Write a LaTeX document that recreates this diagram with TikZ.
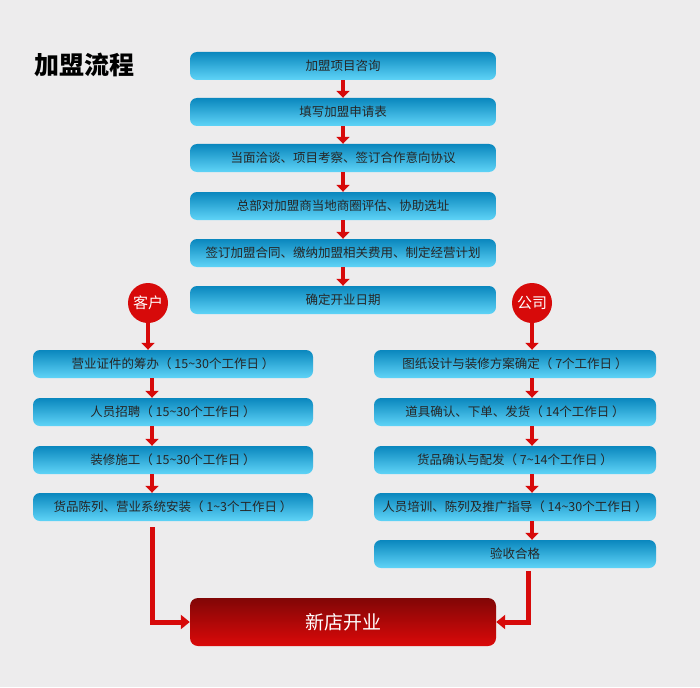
\documentclass[tikz,border=0pt]{standalone}
\usepackage{fontspec}
\setmainfont{Noto Sans CJK SC}
\usetikzlibrary{arrows.meta}
\definecolor{bg}{RGB}{237,236,237}
\definecolor{bdark}{RGB}{10,135,190}
\definecolor{blight}{RGB}{95,212,247}
\definecolor{rr}{RGB}{215,10,10}
\begin{document}
\begin{tikzpicture}[x=1pt,y=-1pt,
 bx/.style={rounded corners=7pt,top color=bdark,bottom color=blight,draw=none,minimum height=28pt,font=\fontsize{12.5}{14}\selectfont,text=black!85,inner sep=0pt},
 tb/.style={bx,minimum width=306pt},
 lb/.style={bx,minimum width=280pt},
 rb/.style={bx,minimum width=282pt},
 ar/.style={draw=rr,line width=4pt,-{Triangle[width=13pt,length=7pt]}},
 big/.style={draw=rr,line width=5pt,-{Triangle[width=14pt,length=9pt]}},
 circ/.style={circle,fill=rr,text=white,minimum size=40pt,inner sep=0pt,font=\fontsize{15}{17}\selectfont}]
\fill[bg] (0,0) rectangle (700,687);
\useasboundingbox (0,0) rectangle (700,687);
\node[anchor=west,font=\fontsize{25}{27}\selectfont\bfseries] (title) at (31,65) {加盟流程};
\node[tb] (t1) at (343,66) {加盟项目咨询};
\node[tb] (t2) at (343,112) {填写加盟申请表};
\node[tb] (t3) at (343,158) {当面洽谈、项目考察、签订合作意向协议};
\node[tb] (t4) at (343,206) {总部对加盟商当地商圈评估、协助选址};
\node[tb] (t5) at (343,253) {签订加盟合同、缴纳加盟相关费用、制定经营计划};
\node[tb] (t6) at (343,300) {确定开业日期};
\foreach \a/\b in {t1/t2,t2/t3,t3/t4,t4/t5,t5/t6} \draw[ar] (\a.south) -- (\b.north);
\node[circ] (kh) at (148,303) {客户};
\node[circ] (gs) at (532,303) {公司};
\node[lb] (l1) at (173,364) {营业证件的筹办（ 15\textasciitilde 30个工作日 ）};
\node[lb] (l2) at (173,412) {人员招聘（ 15\textasciitilde 30个工作日 ）};
\node[lb] (l3) at (173,460) {装修施工（ 15\textasciitilde 30个工作日 ）};
\node[lb] (l4) at (173,507) {货品陈列、营业系统安装（ 1\textasciitilde 3个工作日 ）};
\node[rb] (r1) at (515,364) {图纸设计与装修方案确定（ 7个工作日 ）};
\node[rb] (r2) at (515,412) {道具确认、下单、发货（ 14个工作日 ）};
\node[rb] (r3) at (515,460) {货品确认与配发（ 7\textasciitilde 14个工作日 ）};
\node[rb] (r4) at (515,507) {人员培训、陈列及推广指导（ 14\textasciitilde 30个工作日 ）};
\node[rb] (r5) at (515,554) {验收合格};
\draw[ar] (kh.south) -- (kh.south |- l1.north);
\draw[ar] (gs.south) -- (gs.south |- r1.north);
\foreach \a/\b in {l1/l2,l2/l3,l3/l4} \draw[ar] ([xshift=-21pt]\a.south) -- ([xshift=-21pt]\b.north);
\foreach \a/\b in {r1/r2,r2/r3,r3/r4,r4/r5} \draw[ar] ([xshift=17pt]\a.south) -- ([xshift=17pt]\b.north);
\node[rounded corners=8pt,top color=rr!60!black,bottom color=rr!90!red,minimum width=306pt,minimum height=48pt,text=white,font=\fontsize{19}{21}\selectfont] (new) at (343,622) {新店开业};
\draw[big] (152,527) |- (new.west);
\draw[big] (528,571) |- (new.east);
\end{tikzpicture}
\end{document}
